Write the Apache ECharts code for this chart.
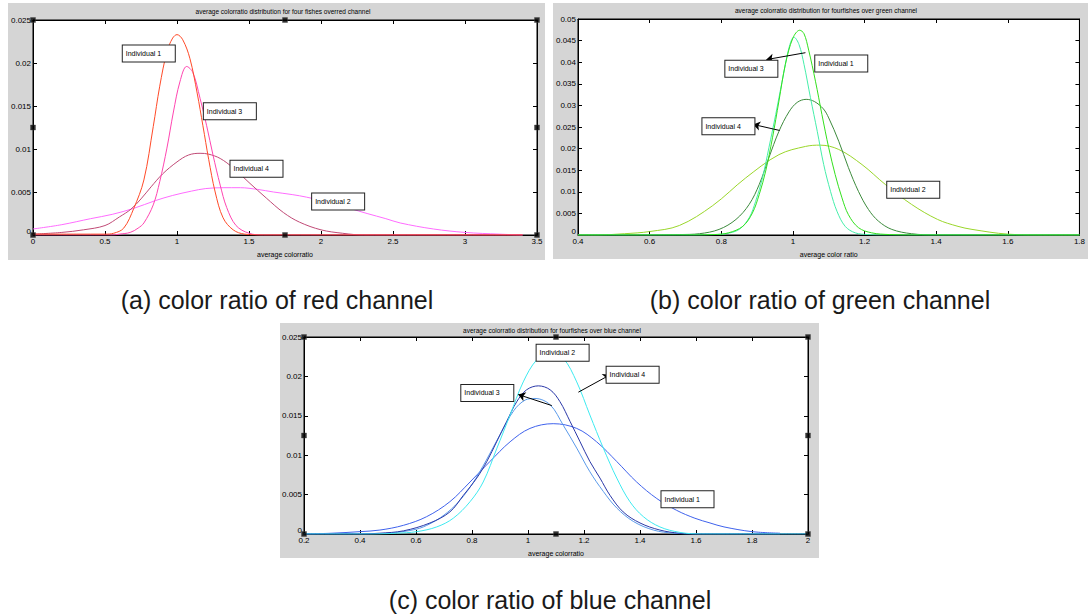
<!DOCTYPE html>
<html>
<head>
<meta charset="utf-8">
<script src="https://cdn.jsdelivr.net/npm/echarts@6/dist/echarts.min.js"></script>
<style>
  html, body { margin: 0; padding: 0; background: #fff; }
  #chart { width: 1088px; height: 615px; }
</style>
</head>
<body>
<div id="chart"></div>
<script>
// ---------- axis ranges: [min, max, interval] ----------
const redX = [0, 3.5, 0.5];
const redY = [0, 0.025, 0.005];
const greenX = [0.4, 1.8, 0.2];
const greenY = [0, 0.05, 0.005];
const blueX = [0.2, 2, 0.2];
const blueY = [0, 0.025, 0.005];

// ---------- density curves, [colour ratio, density] ----------
// red channel
const redInd1 = [[0,0.0001],[0.3,0.0001],[0.5,0.0001],[0.56,0.0002],[0.63,0.0008],[0.7,0.0031],[0.77,0.0064],[0.835,0.0126],[0.88,0.0173],[0.93,0.0213],[0.97,0.0229],[1.0,0.0233],[1.04,0.0227],[1.09,0.0205],[1.14,0.0165],[1.18,0.0127],[1.22,0.0088],[1.265,0.0050],[1.32,0.0020],[1.39,0.0006],[1.47,0.0001],[1.6,0],[3.4,0]];
const redInd2 = [[0,0.0007],[0.2,0.0012],[0.4,0.0019],[0.55,0.0024],[0.7,0.0031],[0.85,0.0040],[0.97,0.0046],[1.1,0.0051],[1.2,0.0054],[1.32,0.0055],[1.44,0.0055],[1.56,0.0053],[1.67,0.0050],[1.8,0.0047],[1.9,0.0044],[2.08,0.0037],[2.2,0.0031],[2.32,0.0025],[2.45,0.0019],[2.55,0.0014],[2.78,0.0007],[3.0,0.0003],[3.24,0.0001],[3.4,0]];
const redInd3 = [[0,0],[0.55,0],[0.6,0.0001],[0.675,0.0003],[0.73,0.0008],[0.77,0.0014],[0.835,0.0035],[0.88,0.0062],[0.93,0.0101],[0.975,0.0143],[1.02,0.0178],[1.067,0.0196],[1.11,0.0189],[1.16,0.0159],[1.206,0.0127],[1.25,0.0093],[1.3,0.0058],[1.345,0.0032],[1.41,0.0011],[1.5,0.0002],[1.6,0],[3.4,0]];
const redInd4 = [[0,0.0001],[0.2,0.0003],[0.35,0.0006],[0.5,0.0011],[0.6,0.0021],[0.68,0.0030],[0.75,0.0042],[0.82,0.0056],[0.9,0.0071],[1.0,0.0085],[1.08,0.0093],[1.16,0.0095],[1.22,0.0094],[1.3,0.0089],[1.39,0.0078],[1.5,0.0061],[1.62,0.0043],[1.74,0.0026],[1.85,0.0015],[2.0,0.0006],[2.15,0.0002],[2.3,0],[3.4,0]];

// green channel
const greenInd1 = [[0.4,0],[0.7,0],[0.78,0.0001],[0.82,0.0005],[0.86,0.0020],[0.887,0.0051],[0.906,0.0094],[0.924,0.0148],[0.943,0.0225],[0.961,0.0310],[0.979,0.0395],[1.0,0.0456],[1.019,0.0474],[1.031,0.0466],[1.044,0.0428],[1.063,0.0356],[1.081,0.0279],[1.1,0.0202],[1.118,0.0140],[1.137,0.0086],[1.155,0.0047],[1.183,0.0017],[1.22,0.0005],[1.27,0.0001],[1.35,0],[1.8,0]];
const greenInd2 = [[0.4,0],[0.45,0],[0.53,0.0003],[0.6,0.0008],[0.683,0.0022],[0.776,0.0068],[0.868,0.0132],[0.961,0.0186],[1.035,0.0205],[1.076,0.0208],[1.128,0.0198],[1.193,0.0163],[1.258,0.0117],[1.331,0.0071],[1.404,0.0036],[1.461,0.0020],[1.5,0.0013],[1.6,0.0002],[1.7,0],[1.8,0]];
const greenInd3 = [[0.4,0],[0.72,0],[0.78,0.0001],[0.813,0.0003],[0.85,0.0013],[0.878,0.0040],[0.896,0.0078],[0.915,0.0132],[0.933,0.0202],[0.952,0.0279],[0.97,0.0356],[0.989,0.0433],[1.003,0.0458],[1.017,0.0441],[1.031,0.0395],[1.049,0.0318],[1.068,0.0240],[1.086,0.0163],[1.105,0.0101],[1.123,0.0055],[1.146,0.0020],[1.174,0.0005],[1.21,0.0001],[1.26,0],[1.8,0]];
const greenInd4 = [[0.4,0],[0.6,0],[0.683,0.0001],[0.739,0.0003],[0.794,0.0013],[0.841,0.0036],[0.878,0.0071],[0.906,0.0117],[0.933,0.0179],[0.961,0.0240],[0.989,0.0285],[1.012,0.0307],[1.037,0.0314],[1.06,0.0309],[1.085,0.0292],[1.1,0.0271],[1.128,0.0217],[1.155,0.0156],[1.183,0.0101],[1.211,0.0059],[1.239,0.0032],[1.276,0.0013],[1.331,0.0003],[1.4,0],[1.8,0]];

// blue channel
const blueInd1 = [[0.2,0],[0.3,0.0001],[0.4,0.0003],[0.471,0.0005],[0.555,0.0011],[0.638,0.0022],[0.721,0.0041],[0.793,0.0066],[0.864,0.0092],[0.936,0.0117],[1.007,0.0134],[1.09,0.0140],[1.174,0.0134],[1.245,0.0117],[1.317,0.0092],[1.388,0.0066],[1.46,0.0045],[1.531,0.0030],[1.596,0.0020],[1.65,0.0014],[1.7,0.0009],[1.8,0.0003],[1.9,0.0001]];
const blueInd2 = [[0.2,0],[0.45,0],[0.53,0.0001],[0.603,0.0003],[0.674,0.0009],[0.733,0.0020],[0.793,0.0041],[0.84,0.0066],[0.888,0.0108],[0.936,0.0151],[0.983,0.0193],[1.031,0.0221],[1.079,0.0231],[1.126,0.0223],[1.174,0.0193],[1.221,0.0151],[1.269,0.0109],[1.317,0.0071],[1.364,0.0041],[1.412,0.0022],[1.471,0.0009],[1.543,0.0002],[1.62,0],[2,0]];
const blueInd3 = [[0.2,0],[0.4,0],[0.5,0.0001],[0.6,0.0006],[0.65,0.0013],[0.7,0.0024],[0.75,0.0040],[0.8,0.0063],[0.85,0.0093],[0.9,0.0126],[0.95,0.0157],[0.99,0.0170],[1.025,0.0172],[1.079,0.0164],[1.126,0.0138],[1.174,0.0109],[1.221,0.0079],[1.269,0.0054],[1.317,0.0033],[1.376,0.0016],[1.448,0.0005],[1.52,0.0001],[1.6,0],[1.9,0]];
const blueInd4 = [[0.2,0],[0.4,0],[0.47,0.0001],[0.555,0.0004],[0.65,0.0014],[0.721,0.0028],[0.769,0.0049],[0.817,0.0071],[0.853,0.0092],[0.888,0.0117],[0.924,0.0143],[0.96,0.0168],[0.995,0.0183],[1.037,0.0188],[1.079,0.0183],[1.114,0.0168],[1.15,0.0143],[1.186,0.0117],[1.221,0.0092],[1.257,0.0071],[1.293,0.0049],[1.34,0.0028],[1.4,0.0014],[1.471,0.0005],[1.54,0.0001],[1.6,0],[2,0]];

// ---------- text annotations (anchored in data units: left edge, vertical centre) ----------
const redNotes = { 'Individual 1': [0.62, 0.0211], 'Individual 3': [1.183, 0.0144], 'Individual 4': [1.368, 0.0077], 'Individual 2': [1.935, 0.0039] };
const greenNotes = { 'Individual 3': [0.810, 0.0385], 'Individual 1': [1.061, 0.0397], 'Individual 4': [0.746, 0.0252], 'Individual 2': [1.262, 0.0105] };
const blueNotes = { 'Individual 2': [1.029, 0.0230], 'Individual 4': [1.279, 0.0202], 'Individual 3': [0.760, 0.0179], 'Individual 1': [1.475, 0.0044] };
// arrows: [fromX, fromY, toX, toY]
const greenArrows = { 'Individual 3': [1.035, 0.0422, 0.926, 0.0406], 'Individual 4': [0.963, 0.0242, 0.889, 0.0256] };
const blueArrows = { 'Individual 4': [1.18, 0.0180, 1.293, 0.0202], 'Individual 3': [1.085, 0.0163, 0.965, 0.0177] };

// ---------- text ----------
const redTitle = 'average colorratio distribution for four fishes overred channel';
const greenTitle = 'average colorratio distribution for fourfishes over green channel';
const blueTitle = 'average colorratio distribution for fourfishes over blue channel';
const redXName = 'average colorratio';
const greenXName = 'average color ratio';
const blueXName = 'average colorratio';
const captions = ['(a) color ratio of red channel', '(b) color ratio of green channel', '(c) color ratio of blue channel'];

// ---------- layout ----------
const FONT = '"Liberation Sans", Arial, Helvetica, sans-serif';
const panels = [
  {
    grid: { left: 33, top: 20, width: 504, height: 215 }, bg: [8, 3, 537, 257],
    titlePos: [283, 11], captionPos: [277, 300], handles: true,
    x: redX, y: redY, xName: redXName, title: redTitle, caption: captions[0],
    notes: redNotes, arrows: {},
    curves: [
      { name: 'Individual 2', data: redInd2, color: '#ff6cff' },
      { name: 'Individual 4', data: redInd4, color: '#c04a76' },
      { name: 'Individual 3', data: redInd3, color: '#ff45b0' },
      { name: 'Individual 1', data: redInd1, color: '#ff4a28' }
    ]
  },
  {
    grid: { left: 578, top: 19, width: 504, height: 216 }, bg: [553, 3, 535, 256],
    titlePos: [826, 10], captionPos: [820, 300], handles: false,
    x: greenX, y: greenY, xName: greenXName, title: greenTitle, caption: captions[1],
    notes: greenNotes, arrows: greenArrows,
    curves: [
      { name: 'Individual 2', data: greenInd2, color: '#9ad62a' },
      { name: 'Individual 4', data: greenInd4, color: '#3c8a3c' },
      { name: 'Individual 3', data: greenInd3, color: '#45eeaa' },
      { name: 'Individual 1', data: greenInd1, color: '#33e01e' }
    ]
  },
  {
    grid: { left: 304, top: 337, width: 504, height: 197 }, bg: [280, 323, 539, 235],
    titlePos: [552, 330], captionPos: [550, 600], handles: true,
    x: blueX, y: blueY, xName: blueXName, title: blueTitle, caption: captions[2],
    notes: blueNotes, arrows: blueArrows,
    curves: [
      { name: 'Individual 1', data: blueInd1, color: '#3f62ec' },
      { name: 'Individual 3', data: blueInd3, color: '#5a9aea' },
      { name: 'Individual 4', data: blueInd4, color: '#2a38a8' },
      { name: 'Individual 2', data: blueInd2, color: '#3eeaf0' }
    ]
  }
];

const grids = [], xAxes = [], yAxes = [], series = [], graphics = [];

panels.forEach((p, i) => {
  grids.push(Object.assign({ show: true, backgroundColor: '#fff', borderColor: '#000', borderWidth: 1, containLabel: false }, p.grid));

  const tick = { show: true, inside: true, length: 4, lineStyle: { color: '#000', width: 1 } };
  const line = { show: true, onZero: false, lineStyle: { color: '#000', width: 1 } };
  const label = { fontSize: 8, color: '#000', fontFamily: FONT };

  const xBase = { gridIndex: i, type: 'value', min: p.x[0], max: p.x[1], interval: p.x[2],
    splitLine: { show: false }, axisLine: line, axisTick: tick };
  xAxes.push(Object.assign({}, xBase, {
    position: 'bottom', axisLabel: Object.assign({ margin: 2 }, label),
    name: p.xName, nameLocation: 'middle', nameGap: 16,
    nameTextStyle: { fontSize: 7, color: '#000', fontFamily: FONT }
  }));
  xAxes.push(Object.assign({}, xBase, { position: 'top', axisLabel: { show: false } }));

  const yBase = { gridIndex: i, type: 'value', min: p.y[0], max: p.y[1], interval: p.y[2],
    splitLine: { show: false }, axisLine: line, axisTick: tick };
  // the zero label sits slightly above the corner so it clears the x labels
  yAxes.push(Object.assign({}, yBase, {
    position: 'left',
    axisLabel: Object.assign({ margin: 2, formatter: v => (v === 0 ? '{z|0}' : String(+v.toFixed(4))),
      rich: { z: { fontSize: 8, color: '#000', fontFamily: FONT, padding: [0, 0, 7, 0] } } }, label)
  }));
  yAxes.push(Object.assign({}, yBase, { position: 'right', axisLabel: { show: false } }));

  const ax = 2 * i;
  p.curves.forEach(c => {
    const s = {
      type: 'line', name: c.name, xAxisIndex: ax, yAxisIndex: ax, data: c.data,
      showSymbol: false, smooth: 0.35, silent: true,
      lineStyle: { color: c.color, width: 1 }, itemStyle: { color: c.color }
    };
    const note = p.notes[c.name];
    if (note) {
      s.markPoint = {
        silent: true, symbol: 'rect', symbolSize: 1, itemStyle: { color: 'rgba(0,0,0,0)' },
        data: [{ coord: note, name: c.name }],
        label: {
          show: true, position: 'right', distance: 0, formatter: '{b}',
          fontSize: 7, fontFamily: FONT, color: '#000', lineHeight: 9,
          backgroundColor: '#fff', borderColor: '#222', borderWidth: 1,
          padding: [4, 3, 3, 3], width: 46, align: 'left'
        }
      };
    }
    const arrow = p.arrows[c.name];
    if (arrow) {
      s.markLine = {
        silent: true, symbol: ['none', 'arrow'], symbolSize: 7,
        lineStyle: { color: '#000', width: 1, type: 'solid' }, label: { show: false },
        data: [[{ coord: [arrow[0], arrow[1]] }, { coord: [arrow[2], arrow[3]] }]]
      };
    }
    series.push(s);
  });

  // selection handles on the axes box: corners and edge midpoints
  if (p.handles) {
    const xs = [p.x[0], (p.x[0] + p.x[1]) / 2, p.x[1]];
    const ys = [p.y[0], (p.y[0] + p.y[1]) / 2, p.y[1]];
    const pts = [];
    xs.forEach((hx, a) => ys.forEach((hy, b) => { if (!(a === 1 && b === 1)) pts.push([hx, hy]); }));
    series.push({
      type: 'scatter', xAxisIndex: ax, yAxisIndex: ax, data: pts, symbol: 'rect',
      symbolSize: 5, clip: false, silent: true, z: 10,
      itemStyle: { color: '#000', borderColor: '#444', borderWidth: 0.5 }
    });
  }

  graphics.push({ type: 'rect', z: -100, shape: { x: p.bg[0], y: p.bg[1], width: p.bg[2], height: p.bg[3] },
    style: { fill: '#d5d5d5' } });
  graphics.push({ type: 'text', z: 50, x: p.titlePos[0], y: p.titlePos[1],
    style: { text: p.title, font: '6.5px ' + FONT, fill: '#000', align: 'center', verticalAlign: 'middle' } });
  graphics.push({ type: 'text', z: 50, x: p.captionPos[0], y: p.captionPos[1],
    style: { text: p.caption, font: '25px ' + FONT, fill: '#1a1a1a', align: 'center', verticalAlign: 'middle' } });
});

const chart = echarts.init(document.getElementById('chart'), null, { renderer: 'svg' });
chart.setOption({
  animation: false,
  backgroundColor: '#fff',
  grid: grids,
  xAxis: xAxes,
  yAxis: yAxes,
  series: series,
  graphic: { elements: graphics }
});
</script>
</body>
</html>
